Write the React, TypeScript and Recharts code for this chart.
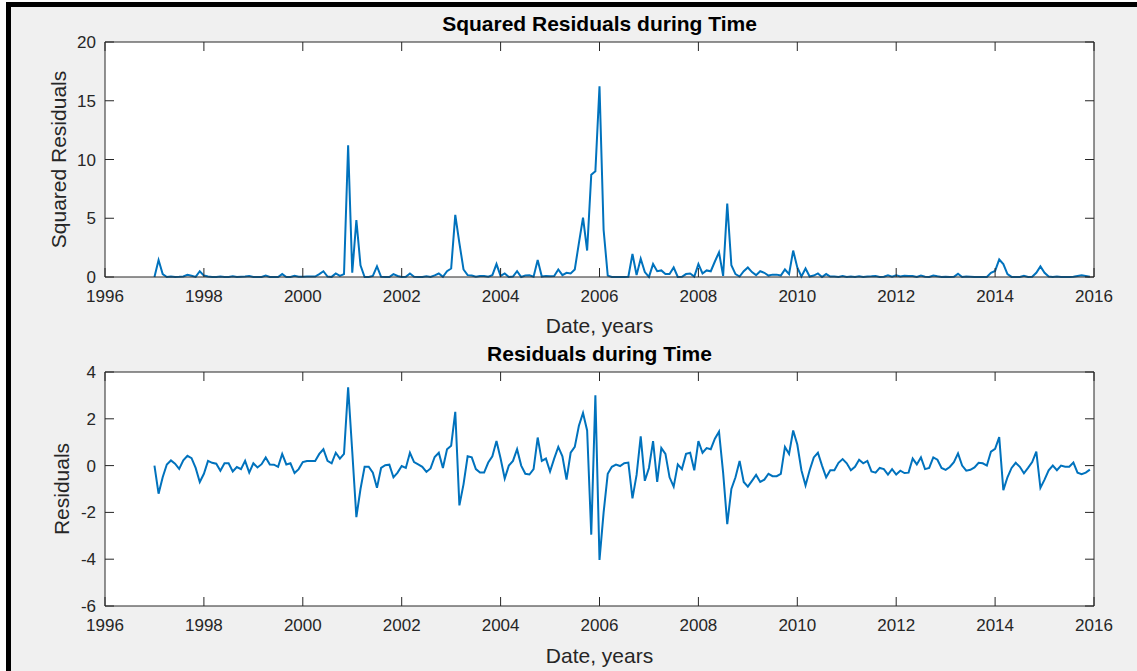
import React from 'react';
import { LineChart, Line, XAxis, YAxis, CartesianGrid } from 'recharts';

// one row of monthly values (Jan..Dec) per year
const YEARS = [1997, 1998, 1999, 2000, 2001, 2002, 2003, 2004, 2005, 2006, 2007, 2008, 2009, 2010, 2011, 2012, 2013, 2014, 2015];

const RESIDUALS = [
  0.0, -1.2, -0.5, 0.05, 0.22, 0.08, -0.14, 0.23, 0.42, 0.32, -0.1, -0.7,
  -0.35, 0.2, 0.12, 0.08, -0.22, 0.1, 0.1, -0.25, -0.06, -0.15, 0.2, -0.3,
  0.1, -0.08, 0.06, 0.35, 0.05, 0.04, -0.05, 0.5, 0.05, 0.1, -0.32, -0.15,
  0.15, 0.2, 0.2, 0.2, 0.5, 0.7, 0.2, 0.1, 0.55, 0.3, 0.5, 3.35,
  0.6, -2.2, -1.0, -0.05, -0.05, -0.3, -0.95, -0.1, 0.02, 0.04, -0.5, -0.3,
  -0.02, -0.1, 0.55, 0.15, 0.05, -0.05, -0.27, -0.12, 0.37, 0.55, -0.1, 0.7,
  0.85, 2.3, -1.7, -0.8, 0.4, 0.35, -0.15, -0.3, -0.3, 0.13, 0.4, 1.05,
  0.3, -0.55, 0.0, 0.2, 0.7, 0.0, -0.35, -0.38, -0.15, 1.2, 0.2, 0.3,
  -0.25, 0.3, 0.8, 0.4, -0.6, 0.55, 0.8, 1.7, 2.25, 1.5, -2.95, 3.0,
  -4.03, -2.0, -0.35, -0.05, 0.04, -0.02, 0.1, 0.13, -1.4, -0.4, 1.25, -0.65,
  -0.1, 1.05, -0.7, 0.75, 0.5, -0.5, -0.9, 0.05, -0.15, 0.5, 0.55, -0.2,
  1.05, 0.55, 0.75, 0.7, 1.15, 1.45, -0.3, -2.5, -1.0, -0.5, 0.2, -0.7,
  -0.9, -0.65, -0.4, -0.7, -0.6, -0.35, -0.45, -0.45, -0.35, 0.8, 0.5, 1.5,
  0.9, -0.2, -0.85, -0.2, 0.35, 0.55, 0.0, -0.5, -0.2, -0.2, 0.12, 0.28,
  0.1, -0.2, -0.05, 0.25, 0.1, 0.2, -0.25, -0.3, -0.1, -0.15, -0.38, -0.15,
  -0.38, -0.22, -0.32, -0.3, 0.3, 0.05, 0.35, -0.15, -0.1, 0.35, 0.25, -0.1,
  -0.18, -0.06, 0.15, 0.52, 0.0, -0.22, -0.18, -0.08, 0.12, 0.1, 0.0, 0.6,
  0.72, 1.22, -1.05, -0.5, -0.1, 0.12, -0.05, -0.33, -0.1, 0.15, 0.6, -0.95,
  -0.6, -0.2, 0.0, -0.2, 0.0, -0.05, -0.05, 0.13, -0.3, -0.37, -0.3, -0.17,
];

const SQUARED = [
  0, 1.44, 0.25, 0, 0.05, 0.01, 0.02, 0.05, 0.18, 0.1, 0.01, 0.49,
  0.12, 0.04, 0.01, 0.01, 0.05, 0.01, 0.01, 0.06, 0, 0.02, 0.04, 0.09,
  0.01, 0.01, 0, 0.12, 0, 0, 0, 0.25, 0, 0.01, 0.1, 0.02,
  0.02, 0.04, 0.04, 0.04, 0.25, 0.49, 0.04, 0.01, 0.3, 0.09, 0.25, 11.22,
  0.36, 4.84, 1.0, 0, 0, 0.09, 0.9, 0.01, 0, 0, 0.25, 0.09,
  0, 0.01, 0.3, 0.02, 0, 0, 0.07, 0.01, 0.14, 0.3, 0.01, 0.49,
  0.72, 5.29, 2.89, 0.64, 0.16, 0.12, 0.02, 0.09, 0.09, 0.02, 0.16, 1.1,
  0.09, 0.3, 0, 0.04, 0.49, 0, 0.12, 0.14, 0.02, 1.44, 0.04, 0.09,
  0.06, 0.09, 0.64, 0.16, 0.36, 0.3, 0.64, 2.89, 5.06, 2.25, 8.7, 9.0,
  16.24, 4.0, 0.12, 0, 0, 0, 0.01, 0.02, 1.96, 0.16, 1.56, 0.42,
  0.01, 1.1, 0.49, 0.56, 0.25, 0.25, 0.81, 0, 0.02, 0.25, 0.3, 0.04,
  1.1, 0.3, 0.56, 0.49, 1.32, 2.1, 0.09, 6.25, 1.0, 0.25, 0.04, 0.49,
  0.81, 0.42, 0.16, 0.49, 0.36, 0.12, 0.2, 0.2, 0.12, 0.64, 0.25, 2.25,
  0.81, 0.04, 0.72, 0.04, 0.12, 0.3, 0, 0.25, 0.04, 0.04, 0.01, 0.08,
  0.01, 0.04, 0, 0.06, 0.01, 0.04, 0.06, 0.09, 0.01, 0.02, 0.14, 0.02,
  0.14, 0.05, 0.1, 0.09, 0.09, 0, 0.12, 0.02, 0.01, 0.12, 0.06, 0.01,
  0.03, 0, 0.02, 0.27, 0, 0.05, 0.03, 0.01, 0.01, 0.01, 0, 0.36,
  0.52, 1.49, 1.1, 0.25, 0.01, 0.01, 0, 0.11, 0.01, 0.02, 0.36, 0.9,
  0.36, 0.04, 0, 0.04, 0, 0, 0, 0.02, 0.09, 0.14, 0.09, 0.03,
];

const X_TICKS = [1996, 1998, 2000, 2002, 2004, 2006, 2008, 2010, 2012, 2014, 2016];
const SQ_TICKS = [0, 5, 10, 15, 20];
const RES_TICKS = [-6, -4, -2, 0, 2, 4];

const rows = YEARS.flatMap((yr, i) =>
  Array.from({ length: 12 }, (_, m) => ({
    t: yr + m / 12,
    r: RESIDUALS[i * 12 + m],
    sq: SQUARED[i * 12 + m],
  }))
);

const FONT = '"Liberation Sans", Arial, Helvetica, sans-serif';
const INK = '#262626';
const BLUE = '#0072BD';
const TL = 9; // inward tick length

const BottomTick = ({ x, y, payload }: any) => (
  <g>
    <line x1={x} y1={y} x2={x} y2={y - TL} stroke={INK} />
    <text x={x} y={y + 25} textAnchor="middle" fill={INK} fontSize={17} fontFamily={FONT}>
      {payload.value}
    </text>
  </g>
);
const TopTick = ({ x, y }: any) => <line x1={x} y1={y} x2={x} y2={y + TL} stroke={INK} />;
const LeftTick = ({ x, y, payload }: any) => (
  <g>
    <line x1={x} y1={y} x2={x + TL} y2={y} stroke={INK} />
    <text x={x - 9} y={y + 6} textAnchor="end" fill={INK} fontSize={17} fontFamily={FONT}>
      {payload.value}
    </text>
  </g>
);
const RightTick = ({ x, y }: any) => <line x1={x} y1={y} x2={x - TL} y2={y} stroke={INK} />;

const XLabel = ({ viewBox, text, dy }: any) => (
  <text x={viewBox.x + viewBox.width / 2} y={viewBox.y + dy} textAnchor="middle" fill={INK} fontSize={21} fontFamily={FONT}>
    {text}
  </text>
);
const Title = ({ viewBox, text }: any) => (
  <text x={viewBox.x + viewBox.width / 2} y={viewBox.y + 31} textAnchor="middle" fill="#000" fontSize={21} fontWeight="bold" fontFamily={FONT}>
    {text}
  </text>
);
const YLabel = ({ viewBox, text, bx }: any) => {
  const cy = viewBox.y + viewBox.height / 2;
  return (
    <text x={bx} y={cy} transform={`rotate(-90 ${bx} ${cy})`} textAnchor="middle" fill={INK} fontSize={21} fontFamily={FONT}>
      {text}
    </text>
  );
};

type PanelProps = {
  top: number;
  height: number;
  bottomAxis: number;
  dataKey: string;
  domain: [number, number];
  yTicks: number[];
  title: string;
  yLabel: string;
  yLabelX: number;
  xLabelDy: number;
};

const Panel = ({ top, height, bottomAxis, dataKey, domain, yTicks, title, yLabel, yLabelX, xLabelDy }: PanelProps) => (
  <div style={{ position: 'absolute', left: 0, top }}>
    <LineChart width={1137} height={height} data={rows} margin={{ top: 0, right: 0, bottom: 0, left: 0 }}>
      <CartesianGrid horizontal={false} vertical={false} fill="#ffffff" />
      <XAxis
        dataKey="t"
        type="number"
        domain={[1996, 2016]}
        ticks={X_TICKS}
        interval={0}
        height={bottomAxis}
        tickSize={0}
        tickMargin={0}
        tickLine={false}
        axisLine={{ stroke: INK }}
        tick={<BottomTick />}
        label={<XLabel text="Date, years" dy={xLabelDy} />}
      />
      <XAxis
        xAxisId="top"
        orientation="top"
        dataKey="t"
        type="number"
        domain={[1996, 2016]}
        ticks={X_TICKS}
        interval={0}
        height={42}
        tickSize={0}
        tickMargin={0}
        tickLine={false}
        axisLine={{ stroke: INK }}
        tick={<TopTick />}
        label={<Title text={title} />}
      />
      <YAxis
        domain={domain}
        ticks={yTicks}
        interval={0}
        width={105}
        tickSize={0}
        tickMargin={0}
        tickLine={false}
        axisLine={{ stroke: INK }}
        tick={<LeftTick />}
        label={<YLabel text={yLabel} bx={yLabelX} />}
      />
      <YAxis
        yAxisId="right"
        orientation="right"
        dataKey={dataKey}
        domain={domain}
        ticks={yTicks}
        interval={0}
        width={43}
        tickSize={0}
        tickMargin={0}
        tickLine={false}
        axisLine={{ stroke: INK }}
        tick={<RightTick />}
      />
      <Line type="linear" dataKey={dataKey} stroke={BLUE} strokeWidth={2} dot={false} isAnimationActive={false} />
    </LineChart>
  </div>
);

const App: React.FC = () => {
  return (
    <div style={{ position: 'absolute', left: 0, top: 0, width: 1137, height: 671, background: '#fff', overflow: 'hidden', fontFamily: FONT }}>
      <div
        style={{
          position: 'absolute',
          left: 6,
          top: 2,
          width: 1131,
          height: 669,
          boxSizing: 'border-box',
          borderLeft: '5px solid #000',
          borderTop: '5px solid #000',
          background: '#f0f0f0',
        }}
      />
      <Panel
        top={0}
        height={345}
        bottomAxis={68}
        dataKey="sq"
        domain={[0, 20]}
        yTicks={SQ_TICKS}
        title="Squared Residuals during Time"
        yLabel="Squared Residuals"
        yLabelX={66}
        xLabelDy={56}
      />
      <Panel
        top={330}
        height={341}
        bottomAxis={65}
        dataKey="r"
        domain={[-6, 4]}
        yTicks={RES_TICKS}
        title="Residuals during Time"
        yLabel="Residuals"
        yLabelX={69}
        xLabelDy={57}
      />
    </div>
  );
};

export default App;
